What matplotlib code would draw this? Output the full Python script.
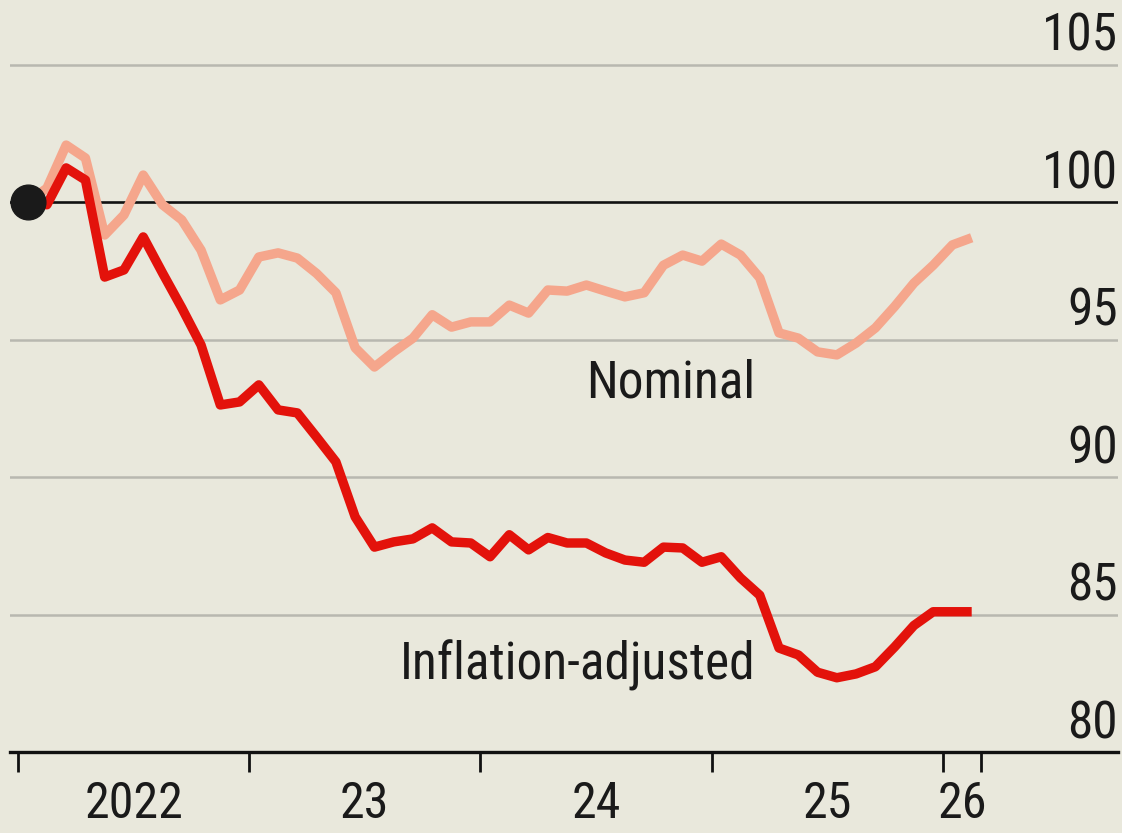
import numpy as np
import matplotlib.pyplot as plt
import matplotlib.font_manager as fm

# DATA - monthly index values, Jan 2022 = 100
start_year = 2022
start_month = 1
nominal = [100.0, 100.5, 102.07, 101.6, 98.8, 99.53, 100.98, 99.9, 99.35, 98.25, 96.44, 96.8,
           98.0, 98.15, 97.96, 97.4, 96.7, 94.7, 94.0, 94.55, 95.05, 95.9, 95.45, 95.64,
           95.64, 96.25, 95.96, 96.8, 96.76, 96.98, 96.76, 96.55, 96.7, 97.7, 98.07, 97.85,
           98.47, 98.07, 97.24, 95.24, 95.05, 94.55, 94.44, 94.87, 95.42, 96.2, 97.05, 97.7,
           98.44, 98.7]
real = [100.0, 99.9, 101.24, 100.8, 97.27, 97.53, 98.73, 97.42, 96.15, 94.8, 92.62, 92.73,
        93.35, 92.44, 92.33, 91.45, 90.55, 88.55, 87.45, 87.64, 87.75, 88.15, 87.64, 87.6,
        87.1, 87.9, 87.35, 87.8, 87.6, 87.6, 87.24, 86.98, 86.9, 87.45, 87.42, 86.9,
        87.1, 86.33, 85.7, 83.78, 83.53, 82.9, 82.7, 82.84, 83.1, 83.82, 84.6, 85.1,
        85.1, 85.1]
year_ticks = [2022, 2023, 2024, 2025, 2026]
year_labels = ["2022", "23", "24", "25", "26"]
y_ticks = [80, 85, 90, 95, 100, 105]

# STYLE
bg = "#E9E8DC"
pink = "#F5A68C"
red = "#E3120B"
grid_col = "#B8B8B0"
txt_col = "#1a1a1a"


def pick_font(weight):
    # look for a narrow / condensed sans, else fall back to Roboto
    fonts = fm.fontManager.ttflist
    wanted = ["Liberation Sans Narrow", "Roboto Condensed", "Open Sans Condensed"]
    for name in wanted:
        for f in fonts:
            if f.name == name and f.style == "normal" and (f.weight in (weight, "normal", 400) if weight == 400 else f.weight not in ("normal", 400)):
                return fm.FontProperties(fname=f.fname), True
    for f in fonts:
        if f.name == "DejaVu Sans" and "ondensed" in str(f.stretch) + f.fname and f.style == "normal":
            if (weight == 400) == ("Bold" not in f.fname):
                return fm.FontProperties(fname=f.fname), True
    return fm.FontProperties(family="Roboto", weight=weight), False


tick_font, narrow = pick_font(400)
label_font, _ = pick_font(400)
size = 37 if narrow else 31

# month midpoints as decimal years
n = len(nominal)
x = np.array([start_year + (start_month - 1 + i + 0.5) / 12 for i in range(n)])
x_end = start_year + (start_month - 1 + n) / 12  # end of last month

fig = plt.figure(figsize=(11.22, 8.33), dpi=100, facecolor=bg)
ax = fig.add_axes([10 / 1122, 81 / 833, 1108 / 1122, 752 / 833])
ax.set_facecolor(bg)

px_per_year = 231.2
ax.set_xlim(2022 - 8 / px_per_year, 2022 + 1100 / px_per_year)
ax.set_ylim(80, 80 + 752 / 27.5)

# gridlines and y labels
for v in y_ticks:
    if v == 100:
        ax.axhline(v, color="#111111", lw=1.9, zorder=1)
    elif v != 80:
        ax.axhline(v, color=grid_col, lw=1.8, zorder=1)
    ax.text(1.0, v + 0.5, str(v), transform=ax.get_yaxis_transform(),
            ha="right", va="baseline", fontproperties=tick_font, fontsize=size, color=txt_col)

# lines
ax.plot(x, nominal, color=pink, lw=6.8, solid_joinstyle="round", solid_capstyle="butt", zorder=3)
ax.plot(x, real, color=red, lw=6.8, solid_joinstyle="round", solid_capstyle="butt", zorder=4)
ax.plot(x[0], real[0], "o", color=txt_col, markersize=25, zorder=5)

# line labels
ax.text(2025.19, 93.4, "Nominal", ha="right", va="center",
        fontproperties=label_font, fontsize=size, color=txt_col)
ax.text(2025.19, 83.15, "Inflation-adjusted", ha="right", va="center",
        fontproperties=label_font, fontsize=size, color=txt_col)

# axes
for s in ["top", "right", "left"]:
    ax.spines[s].set_visible(False)
ax.spines["bottom"].set_color("#111111")
ax.spines["bottom"].set_linewidth(2.4)
ax.set_yticks([])

ax.set_xticks(year_ticks + [x_end])
ax.set_xticklabels([])
ax.tick_params(axis="x", which="major", length=14.5, width=2.0, color="#111111", direction="out")
label_pos = [(year_ticks[i] + (year_ticks[i + 1] if i + 1 < len(year_ticks) else x_end)) / 2
             for i in range(len(year_ticks))]
ax.set_xticks(label_pos, minor=True)
ax.set_xticklabels(year_labels, minor=True, fontproperties=tick_font)
ax.tick_params(axis="x", which="minor", length=0, pad=20, labelsize=size - 1, labelcolor=txt_col)

fig.savefig("out.png", dpi=100, facecolor=bg)
